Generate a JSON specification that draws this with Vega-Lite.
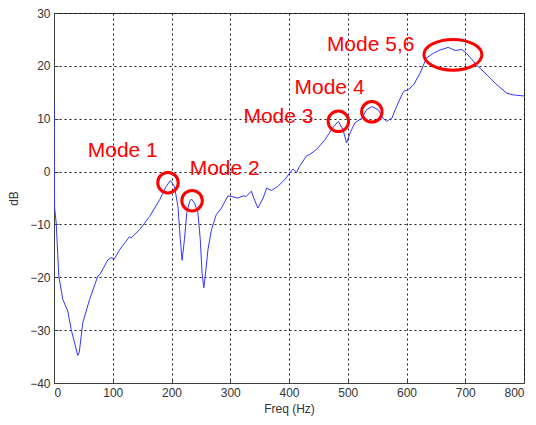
{
  "$schema": "https://vega.github.io/schema/vega-lite/v6.json",
  "width": 470,
  "height": 370,
  "autosize": {"type": "none"},
  "padding": {"left": 54, "top": 13, "right": 12, "bottom": 42},
  "background": "white",
  "config": {
    "view": {"stroke": "#404040", "strokeWidth": 1},
    "font": "Liberation Sans",
    "axis": {
      "labelFont": "Liberation Sans",
      "titleFont": "Liberation Sans",
      "labelFontSize": 12,
      "titleFontSize": 12,
      "titleFontWeight": "normal",
      "labelColor": "#333333",
      "titleColor": "#333333",
      "domainColor": "#404040",
      "tickColor": "#404040",
      "gridColor": "#000000",
      "gridOpacity": 0.9,
      "gridDash": [2, 3],
      "gridWidth": 1,
      "tickSize": -4,
      "labelPadding": 8
    }
  },
  "datasets": {
    "curve": [
      {"freq": 0, "db": 13},
      {"freq": 0.5, "db": 4},
      {"freq": 1, "db": -6.8},
      {"freq": 3.7, "db": -9.7},
      {"freq": 8.2, "db": -19.8},
      {"freq": 15, "db": -24.2},
      {"freq": 23.5, "db": -26.4},
      {"freq": 29.3, "db": -29.9},
      {"freq": 35, "db": -32.4},
      {"freq": 40.5, "db": -34.8},
      {"freq": 43, "db": -34.2},
      {"freq": 49, "db": -28.6},
      {"freq": 60.5, "db": -24.2},
      {"freq": 74.6, "db": -19.8},
      {"freq": 78, "db": -19.5},
      {"freq": 91.7, "db": -16.7},
      {"freq": 97, "db": -16.3},
      {"freq": 103, "db": -16.5},
      {"freq": 106, "db": -15.9},
      {"freq": 111.6, "db": -14.8},
      {"freq": 128.6, "db": -12.3},
      {"freq": 131, "db": -12.6},
      {"freq": 145.7, "db": -11.0},
      {"freq": 162.7, "db": -8.5},
      {"freq": 180, "db": -5.3},
      {"freq": 191, "db": -2.8},
      {"freq": 198, "db": -1.7},
      {"freq": 205, "db": -2.8},
      {"freq": 211, "db": -6.6},
      {"freq": 215, "db": -12.9},
      {"freq": 218, "db": -16.8},
      {"freq": 222, "db": -12.9},
      {"freq": 226, "db": -7.8},
      {"freq": 231, "db": -5.6},
      {"freq": 234, "db": -5.2},
      {"freq": 239, "db": -5.9},
      {"freq": 245, "db": -7.8},
      {"freq": 249, "db": -12.9},
      {"freq": 252, "db": -19.2},
      {"freq": 255, "db": -22.0},
      {"freq": 258, "db": -19.2},
      {"freq": 262, "db": -14.8},
      {"freq": 268, "db": -11.0},
      {"freq": 276, "db": -8.2},
      {"freq": 285, "db": -6.9},
      {"freq": 296, "db": -4.6},
      {"freq": 305, "db": -4.8},
      {"freq": 313, "db": -5.0},
      {"freq": 322, "db": -4.6},
      {"freq": 327, "db": -4.7},
      {"freq": 336, "db": -3.7},
      {"freq": 340, "db": -5.0},
      {"freq": 347, "db": -6.9},
      {"freq": 356, "db": -5.0},
      {"freq": 362, "db": -3.1},
      {"freq": 370, "db": -3.6},
      {"freq": 381, "db": -2.8},
      {"freq": 393, "db": -1.5},
      {"freq": 401, "db": -0.3},
      {"freq": 407, "db": 0.5},
      {"freq": 413, "db": -0.15},
      {"freq": 418, "db": 1.0},
      {"freq": 430, "db": 3.0},
      {"freq": 435, "db": 3.2},
      {"freq": 447, "db": 4.2},
      {"freq": 461, "db": 6.0},
      {"freq": 476, "db": 8.5},
      {"freq": 484, "db": 9.5},
      {"freq": 492, "db": 7.9},
      {"freq": 498, "db": 5.4},
      {"freq": 504, "db": 7.3},
      {"freq": 512, "db": 9.2},
      {"freq": 524, "db": 10.1},
      {"freq": 532, "db": 11.7},
      {"freq": 541, "db": 12.3},
      {"freq": 552, "db": 11.7},
      {"freq": 560, "db": 10.1},
      {"freq": 566, "db": 9.5},
      {"freq": 575, "db": 10.1},
      {"freq": 583, "db": 12.3},
      {"freq": 595, "db": 15.2},
      {"freq": 603, "db": 15.5},
      {"freq": 612, "db": 16.4},
      {"freq": 623, "db": 18.6},
      {"freq": 634, "db": 21.5},
      {"freq": 646, "db": 22.4},
      {"freq": 657, "db": 23.0},
      {"freq": 671, "db": 23.5},
      {"freq": 683, "db": 22.9},
      {"freq": 694, "db": 23.1},
      {"freq": 702, "db": 22.4},
      {"freq": 719, "db": 20.2},
      {"freq": 737, "db": 18.3},
      {"freq": 754, "db": 16.4},
      {"freq": 771, "db": 14.8},
      {"freq": 782, "db": 14.5},
      {"freq": 800, "db": 14.3}
    ],
    "circles": [
      {"freq": 194, "db": -2.1},
      {"freq": 235, "db": -5.5},
      {"freq": 484, "db": 9.5},
      {"freq": 541, "db": 11.3}
    ],
    "ellipse": [
      {"freq": 679, "db": 22.1}
    ],
    "labels": [
      {"freq": 117, "db": 2.8, "label": "Mode 1"},
      {"freq": 290.5, "db": -0.6, "label": "Mode 2"},
      {"freq": 382, "db": 9.25, "label": "Mode 3"},
      {"freq": 469, "db": 14.7, "label": "Mode 4"},
      {"freq": 539, "db": 22.85, "label": "Mode 5,6"}
    ]
  },
  "layer": [
    {
      "data": {"name": "curve"},
      "mark": {"type": "line", "color": "#3535ff", "strokeWidth": 1, "clip": true},
      "encoding": {
        "x": {
          "field": "freq", "type": "quantitative",
          "scale": {"domain": [0, 800], "nice": false, "zero": false},
          "axis": {"title": "Freq (Hz)", "values": [0, 100, 200, 300, 400, 500, 600, 700, 800], "grid": true, "titlePadding": 5}
        },
        "y": {
          "field": "db", "type": "quantitative",
          "scale": {"domain": [-40, 30], "nice": false, "zero": false},
          "axis": {"title": "dB", "values": [-40, -30, -20, -10, 0, 10, 20, 30], "grid": true, "titlePadding": 9}
        }
      }
    },
    {
      "data": {"name": "circles"},
      "mark": {"type": "point", "shape": "circle", "filled": false, "size": 420, "stroke": "#ff0000", "strokeWidth": 3, "opacity": 1},
      "encoding": {
        "x": {"field": "freq", "type": "quantitative"},
        "y": {"field": "db", "type": "quantitative"}
      }
    },
    {
      "data": {"name": "ellipse"},
      "mark": {"type": "point", "shape": "M -1 0 C -1 -0.29 -0.55 -0.53 0 -0.53 C 0.55 -0.53 1 -0.29 1 0 C 1 0.29 0.55 0.53 0 0.53 C -0.55 0.53 -1 0.29 -1 0 Z", "filled": false, "size": 3364, "stroke": "#ff0000", "strokeWidth": 3, "opacity": 1},
      "encoding": {
        "x": {"field": "freq", "type": "quantitative"},
        "y": {"field": "db", "type": "quantitative"}
      }
    },
    {
      "data": {"name": "labels"},
      "mark": {"type": "text", "font": "Liberation Sans", "fontSize": 21, "color": "#ff0000", "align": "center", "baseline": "alphabetic"},
      "encoding": {
        "x": {"field": "freq", "type": "quantitative"},
        "y": {"field": "db", "type": "quantitative"},
        "text": {"field": "label"}
      }
    }
  ]
}
